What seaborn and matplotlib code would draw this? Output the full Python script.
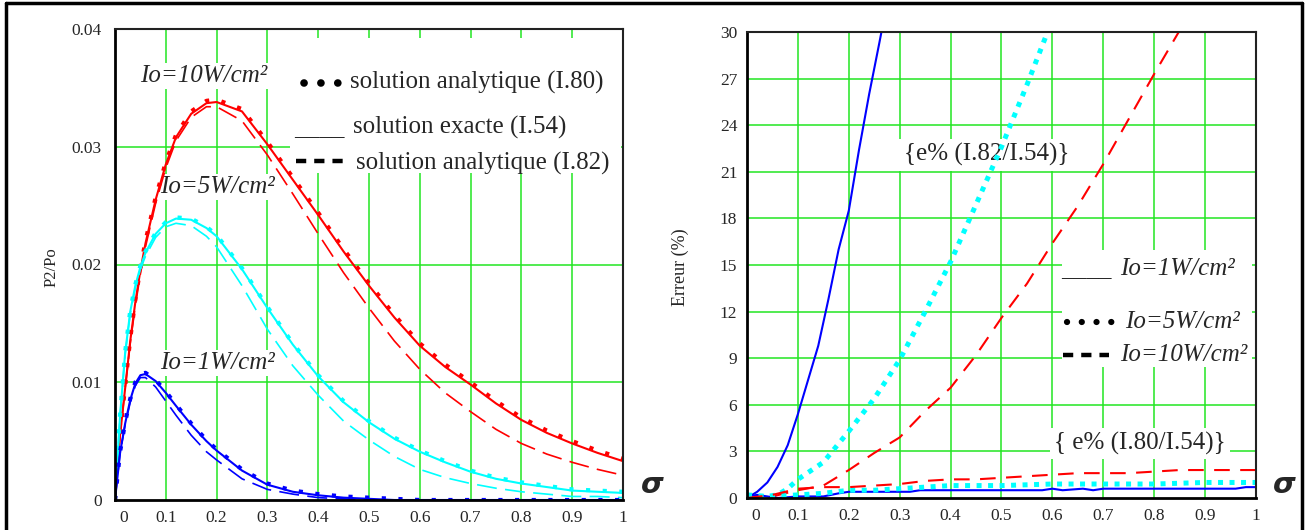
import numpy as np
import pandas as pd
import matplotlib
matplotlib.use("Agg")
import matplotlib.pyplot as plt
from matplotlib.lines import Line2D
from matplotlib.patches import Rectangle
from matplotlib.transforms import ScaledTranslation
import seaborn as sns

# ---------------------------------------------------------------- data
# normalised position along the fibre
sigma = [0, 0.01, 0.02, 0.03, 0.04, 0.05, 0.06, 0.08, 0.10, 0.12, 0.15, 0.18, 0.20,
         0.25, 0.30, 0.35, 0.40, 0.45, 0.50, 0.55, 0.60, 0.65, 0.70, 0.75, 0.80,
         0.85, 0.90, 0.95, 1.00]

# P2/Po, Io = 10 W/cm2
p10_exact = [0, 0.0055, 0.0095, 0.0135, 0.0168, 0.0195, 0.0218, 0.0255, 0.0285, 0.0308,
             0.0328, 0.0337, 0.0338, 0.0330, 0.0302, 0.0272, 0.0242, 0.0211, 0.0182,
             0.0155, 0.0131, 0.0113, 0.0098, 0.0082, 0.0068, 0.0057, 0.0048, 0.0040, 0.0033]
p10_i80 = [0, 0.0056, 0.0097, 0.0137, 0.0170, 0.0197, 0.0220, 0.0257, 0.0287, 0.0310,
           0.0330, 0.0339, 0.0340, 0.0332, 0.0304, 0.0274, 0.0244, 0.0213, 0.0184,
           0.0157, 0.0133, 0.0115, 0.0100, 0.0084, 0.0070, 0.0059, 0.0050, 0.0042, 0.0035]
p10_i82 = [0, 0.0055, 0.0095, 0.0133, 0.0165, 0.0192, 0.0215, 0.0252, 0.0282, 0.0305,
           0.0325, 0.0334, 0.0334, 0.0322, 0.0293, 0.0260, 0.0226, 0.0193, 0.0163,
           0.0135, 0.0111, 0.0091, 0.0075, 0.0060, 0.0048, 0.0039, 0.0032, 0.0026, 0.0021]

# P2/Po, Io = 5 W/cm2
p5_exact = [0, 0.0072, 0.0125, 0.0160, 0.0182, 0.0198, 0.0210, 0.0226, 0.0235, 0.0239,
            0.0238, 0.0231, 0.0224, 0.0196, 0.0163, 0.0132, 0.0105, 0.0083, 0.0066,
            0.0052, 0.0041, 0.0032, 0.0024, 0.0018, 0.0014, 0.0011, 0.0008, 0.0007, 0.0006]
p5_i80 = [0, 0.0073, 0.0126, 0.0161, 0.0183, 0.0199, 0.0211, 0.0227, 0.0236, 0.0240,
          0.0239, 0.0232, 0.0225, 0.0197, 0.0164, 0.0133, 0.0106, 0.0084, 0.0067,
          0.0053, 0.0042, 0.0033, 0.0025, 0.0019, 0.0015, 0.0012, 0.0009, 0.0008, 0.0007]
p5_i82 = [0, 0.0072, 0.0124, 0.0158, 0.0180, 0.0196, 0.0207, 0.0223, 0.0232, 0.0235,
          0.0233, 0.0224, 0.0215, 0.0182, 0.0145, 0.0114, 0.0089, 0.0067, 0.0051,
          0.0037, 0.0026, 0.0019, 0.0014, 0.0010, 0.0007, 0.0005, 0.0003, 0.0003, 0.0002]

# P2/Po, Io = 1 W/cm2
p1_exact = [0, 0.0040, 0.0065, 0.0085, 0.0099, 0.0106, 0.0107, 0.0101, 0.0091, 0.0080,
            0.0064, 0.0050, 0.0042, 0.0025, 0.0013, 0.0007, 0.0004, 0.0002, 0.0001,
            0, 0, 0, 0, 0, 0, 0, 0, 0, 0]
p1_i80 = [0, 0.0041, 0.0066, 0.0086, 0.0100, 0.0107, 0.0108, 0.0102, 0.0092, 0.0081,
          0.0065, 0.0051, 0.0043, 0.0026, 0.0014, 0.0008, 0.0005, 0.0003, 0.0002,
          0.0001, 0, 0, 0, 0, 0, 0, 0, 0, 0]
p1_i82 = [0, 0.0040, 0.0064, 0.0083, 0.0097, 0.0104, 0.0104, 0.0096, 0.0084, 0.0072,
          0.0055, 0.0041, 0.0034, 0.0018, 0.0009, 0.0005, 0.0002, 0.0001, 0,
          0, 0, 0, 0, 0, 0, 0, 0, 0, 0]

# relative error (%) of I.82 with respect to I.54
err82_s1 = [0, 0.02, 0.04, 0.06, 0.08, 0.10, 0.12, 0.14, 0.16, 0.18, 0.20, 0.22, 0.24, 0.26, 0.27]
err82_1 = [0, 0.4, 1.0, 2.0, 3.4, 5.4, 7.6, 9.8, 12.8, 16.0, 18.5, 22.4, 26.0, 29.3, 31.0]
err82_s5 = [0, 0.04, 0.06, 0.08, 0.10, 0.15, 0.20, 0.25, 0.30, 0.35, 0.40, 0.45, 0.50, 0.55, 0.60]
err82_5 = [0.2, 0.1, 0.2, 0.6, 1.2, 2.3, 4.3, 6.4, 8.9, 12.0, 15.2, 18.9, 22.6, 26.6, 30.8]
err82_s10 = [0, 0.05, 0.10, 0.15, 0.20, 0.25, 0.30, 0.35, 0.40, 0.45, 0.50, 0.55, 0.60,
             0.65, 0.70, 0.75, 0.80, 0.85]
err82_10 = [0, 0.1, 0.5, 0.8, 1.8, 2.9, 3.9, 5.6, 7.1, 9.2, 11.6, 13.8, 16.4, 18.8, 21.5,
            24.4, 27.3, 30.1]

# relative error (%) of I.80 with respect to I.54
err80_s1 = [0, 0.02, 0.04, 0.06, 0.10, 0.15, 0.18, 0.20, 0.30, 0.32, 0.34, 0.40, 0.50, 0.58,
            0.60, 0.62, 0.66, 0.68, 0.70, 0.80, 0.90, 0.96, 0.98, 1.00]
err80_1 = [0.1, 0.2, 0.1, 0.0, 0.1, 0.1, 0.3, 0.4, 0.4, 0.4, 0.5, 0.5, 0.5, 0.5,
           0.6, 0.5, 0.6, 0.5, 0.6, 0.6, 0.6, 0.6, 0.7, 0.7]
err80_s5 = [0, 0.05, 0.10, 0.15, 0.20, 0.25, 0.30, 0.35, 0.40, 0.45, 0.50, 0.60, 0.70,
            0.80, 0.90, 1.00]
err80_5 = [0.1, 0.1, 0.2, 0.3, 0.5, 0.5, 0.6, 0.7, 0.8, 0.8, 0.8, 0.9, 0.9, 0.9, 1.0, 1.0]
err80_s10 = [0, 0.05, 0.10, 0.15, 0.20, 0.25, 0.30, 0.35, 0.40, 0.45, 0.50, 0.55, 0.60,
             0.65, 0.70, 0.75, 0.80, 0.85, 0.90, 0.95, 1.00]
err80_10 = [0, 0.2, 0.6, 0.7, 0.7, 0.8, 0.9, 1.1, 1.2, 1.2, 1.3, 1.4, 1.5, 1.6, 1.6,
            1.6, 1.7, 1.8, 1.8, 1.8, 1.8]

x_ticks = [0, 0.1, 0.2, 0.3, 0.4, 0.5, 0.6, 0.7, 0.8, 0.9, 1]
x_tick_labels = ["0", "0.1", "0.2", "0.3", "0.4", "0.5", "0.6", "0.7", "0.8", "0.9", "1"]
p_ticks = [0, 0.01, 0.02, 0.03, 0.04]
p_tick_labels = ["0", "0.01", "0.02", "0.03", "0.04"]
e_ticks = [0, 3, 6, 9, 12, 15, 18, 21, 24, 27, 30]

# ---------------------------------------------------------------- style
sns.set_style("white")
plt.rcParams["font.family"] = ["Liberation Serif", "DejaVu Serif"]

RED, CYAN, BLUE = "#ff0000", "#00ffff", "#0000ff"
GRID = "#22e622"
SOLID = "-"
DOTTED_SQ = (0, (1, 3))
DASHED = (0, (12, 5))

fig = plt.figure(figsize=(13.09, 5.30), dpi=100)
W, H = 1309, 530


def px_axes(x0, y0, x1, y1):
    return fig.add_axes([x0 / W, 1 - y1 / H, (x1 - x0) / W, (y1 - y0) / H])


ax1 = px_axes(115, 29, 623, 500)
ax2 = px_axes(747, 32, 1256, 498)


def draw(ax, xs, ys, color, ls, lw):
    df = pd.DataFrame({"sigma": xs, "val": ys})
    sns.lineplot(data=df, x="sigma", y="val", ax=ax, color=color, lw=lw,
                 legend=False, sort=False, estimator=None, zorder=5)
    ax.lines[-1].set_linestyle(ls)
    ax.lines[-1].set_solid_capstyle("butt")
    ax.lines[-1].set_dash_capstyle("butt")


def frame(ax, yticks, ylabels, ylim, ypad):
    ax.set_xlim(0, 1)
    ax.set_ylim(*ylim)
    ax.set_xticks(x_ticks)
    ax.set_xticklabels(x_tick_labels)
    ax.set_yticks(yticks)
    ax.set_yticklabels(ylabels)
    ax.tick_params(axis="both", length=0, labelsize=12.5)
    ax.tick_params(axis="x", pad=7)
    ax.tick_params(axis="y", pad=ypad)
    for v in x_ticks[1:-1]:
        ax.axvline(v, color=GRID, lw=1.1, zorder=1)
    for v in yticks[1:-1]:
        ax.axhline(v, color=GRID, lw=1.1, zorder=1)
    for side in ("left", "bottom"):
        ax.spines[side].set_linewidth(2.0)
        ax.spines[side].set_color("black")
    for side in ("top", "right"):
        ax.spines[side].set_linewidth(1.5)
        ax.spines[side].set_color("#222222")
    for sp in ax.spines.values():
        sp.set_zorder(10)
    lab0 = ax.get_xticklabels()[0]
    lab0.set_transform(lab0.get_transform() + ScaledTranslation(0.085, 0, fig.dpi_scale_trans))


def white_box(ax, x0, y0, x1, y1):
    ax.add_patch(Rectangle((x0, y0), x1 - x0, y1 - y0, transform=ax.transAxes,
                           facecolor="white", edgecolor="none", zorder=2))


def sample(ax, x0, x1, y, ls, lw, cap="butt"):
    ln = Line2D([x0, x1], [y, y], transform=ax.transAxes, color="black", lw=lw,
                linestyle=ls, zorder=3)
    ln.set_dash_capstyle(cap)
    ln.set_solid_capstyle(cap)
    ax.add_line(ln)


# ---------------------------------------------------------------- left panel
frame(ax1, p_ticks, p_tick_labels, (0, 0.04), 9.5)
for color, ex, a80, a82 in ((RED, p10_exact, p10_i80, p10_i82),
                            (CYAN, p5_exact, p5_i80, p5_i82),
                            (BLUE, p1_exact, p1_i80, p1_i82)):
    draw(ax1, sigma, a82, color, DASHED, 1.2)
    draw(ax1, sigma, ex, color, SOLID, 1.5)
    draw(ax1, sigma, a80, color, DOTTED_SQ, 3.0)
ax1.set_xlabel("")
ax1.set_ylabel("")

ital = dict(style="italic", fontsize=18, va="center", ha="left", zorder=3,
            bbox=dict(facecolor="white", edgecolor="none", pad=1.5))
ax1.text(0.049, 0.0360, "Io=10W/cm²", **ital)
ax1.text(0.089, 0.0266, "Io=5W/cm²", **ital)
ax1.text(0.089, 0.01163, "Io=1W/cm²", **ital)

white_box(ax1, 0.344, 0.694, 0.996, 0.981)
leg = dict(fontsize=18, va="center", ha="left", zorder=3, transform=ax1.transAxes)
sample(ax1, 0.372, 0.445, 0.885, (0, (0.01, 2.2)), 5.5, cap="round")
ax1.text(0.462, 0.887, "solution analytique (I.80)", **leg)
ax1.text(0.352, 0.790, "____", **leg)
ax1.text(0.468, 0.790, "solution exacte (I.54)", **leg)
sample(ax1, 0.356, 0.448, 0.720, (0, (2.3, 1.8)), 3.2)
ax1.text(0.474, 0.715, "solution analytique (I.82)", **leg)

fig.text(52 / W, 1 - 267 / H, "P2/Po", rotation=90, fontsize=12, ha="center", va="center")

# ---------------------------------------------------------------- right panel
frame(ax2, e_ticks, [str(v) for v in e_ticks], (0, 30), 7)
draw(ax2, err82_s1, err82_1, BLUE, SOLID, 1.5)
draw(ax2, err82_s5, err82_5, CYAN, (0, (1, 1.3)), 3.6)
draw(ax2, err82_s10, err82_10, RED, (0, (7.5, 5)), 1.5)
draw(ax2, err80_s1, err80_1, BLUE, SOLID, 1.5)
draw(ax2, err80_s5, err80_5, CYAN, (0, (1, 1.3)), 3.6)
draw(ax2, err80_s10, err80_10, RED, (0, (7.5, 5)), 1.5)
ax2.set_xlabel("")
ax2.set_ylabel("")

box = dict(fontsize=18, va="center", ha="center", zorder=3,
           bbox=dict(facecolor="white", edgecolor="none", pad=3))
ax2.text(0.470, 22.1, "{e% (I.82/I.54)}", **box)
ax2.text(0.772, 3.5, "{ e% (I.80/I.54)}", **box)

white_box(ax2, 0.619, 0.281, 0.992, 0.532)
ax2.text(0.617, 0.492, "____", fontsize=18, va="center", ha="left", zorder=3,
         transform=ax2.transAxes)
ax2.text(0.733, 0.492, "Io=1W/cm²", style="italic", fontsize=18, va="center", ha="left",
         zorder=3, transform=ax2.transAxes)
sample(ax2, 0.628, 0.722, 0.378, (0, (0.01, 2.35)), 4.5, cap="round")
ax2.text(0.743, 0.378, "Io=5W/cm²", style="italic", fontsize=18, va="center", ha="left",
         zorder=3, transform=ax2.transAxes)
sample(ax2, 0.620, 0.712, 0.306, (0, (2.3, 1.8)), 3.2)
ax2.text(0.733, 0.306, "Io=10W/cm²", style="italic", fontsize=18, va="center", ha="left",
         zorder=3, transform=ax2.transAxes)

fig.text(680 / W, 1 - 267 / H, "Erreur (%)", rotation=90, fontsize=13, ha="center", va="center")

# sigma axis symbols
for xc in (652, 1284):
    fig.text(xc / W, 1 - 485 / H, "σ", fontsize=21, fontweight="bold", style="italic",
             family="DejaVu Sans", ha="center", va="center")

# outer frame
for (xa, ya, xb, yb) in ((6, 3, 1302, 3), (6, 3, 6, 530), (1302, 3, 1302, 530)):
    fig.add_artist(Line2D([xa / W, xb / W], [1 - ya / H, 1 - yb / H], color="black",
                          lw=2.5, transform=fig.transFigure))

fig.savefig("out.png", dpi=100)
